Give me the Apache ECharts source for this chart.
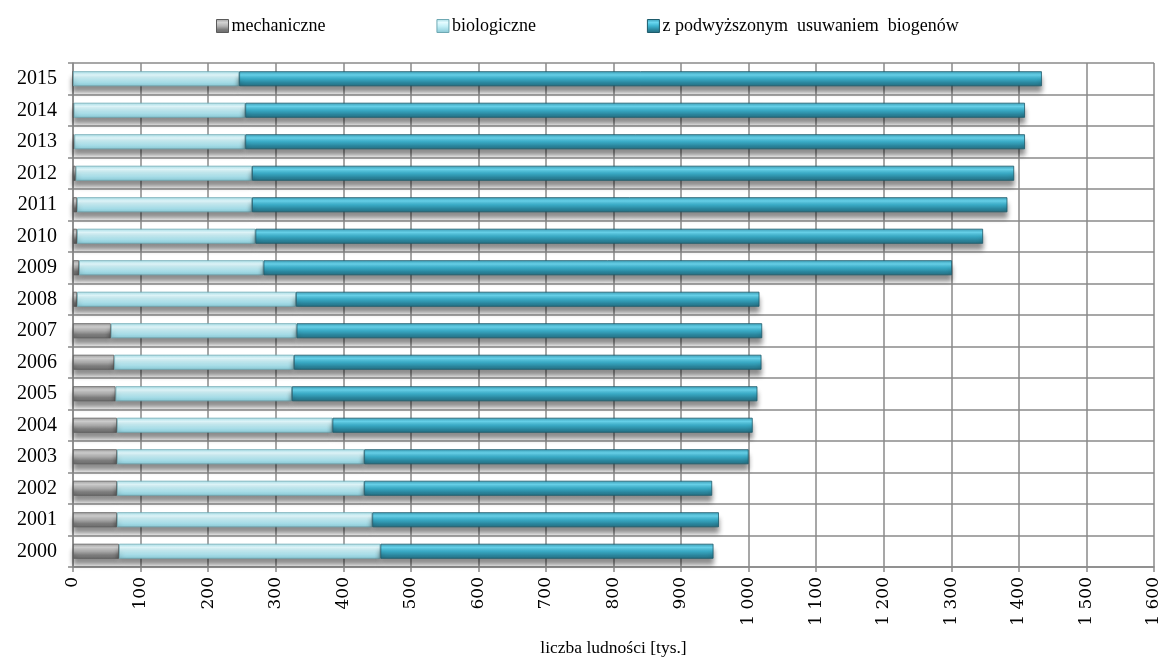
<!DOCTYPE html>
<html>
<head>
<meta charset="utf-8">
<script src="https://cdn.jsdelivr.net/npm/echarts@6/dist/echarts.min.js"></script>
<style>
  html, body { margin: 0; padding: 0; background: #fff; }
  #chart { width: 1164px; height: 657px; }
</style>
</head>
<body>
<div id="chart"></div>
<script>
// Years (bottom to top) and population served [thousands] by treatment type
const years = ['2000','2001','2002','2003','2004','2005','2006','2007','2008','2009','2010','2011','2012','2013','2014','2015'];
const mechaniczne = [68, 65, 65, 65, 65, 63, 61, 56, 6, 9, 6, 6, 4, 2, 1, 0];
const biologiczne = [387, 378, 366, 366, 319, 261, 266, 275, 324, 273, 264, 259, 261, 253, 254, 246];
const zPodwyzszonym = [493, 513, 515, 569, 622, 689, 692, 689, 686, 1019, 1077, 1118, 1128, 1154, 1154, 1188];
const seriesNames = ['mechaniczne', 'biologiczne', 'z podwyższonym  usuwaniem  biogenów'];

// cylinder-like vertical shading for each series
function tube(stops) {
  return new echarts.graphic.LinearGradient(0, 0, 0, 1,
    stops.map((c, i) => ({ offset: i / (stops.length - 1), color: c })));
}
const fills = [
  tube(['#a0a0a0', '#d2d2d2', '#b4b4b4', '#7e7e7e', '#6a6a6a']),
  tube(['#a6dbe4', '#e4fbff', '#c6f1f8', '#a6dde8', '#86c4d0']),
  tube(['#3b9cb5', '#69d6ef', '#3db4d0', '#2c8aa2', '#246b7d'])
];
const edges = ['#5a5a5a', '#6ea8b3', '#1d5b6b'];

const serif = '"Liberation Serif", "DejaVu Serif", serif';
const gridColor = '#8a8a8a';

function fmt(v) {
  return v >= 1000 ? Math.floor(v / 1000) + ' ' + String(v % 1000).padStart(3, '0') : String(v);
}

const chart = echarts.init(document.getElementById('chart'), null, { renderer: 'canvas' });
chart.setOption({
  animation: false,
  backgroundColor: '#ffffff',
  legend: {
    top: 12,
    left: 211,
    itemWidth: 12,
    itemHeight: 13,
    itemGap: 111,
    icon: 'rect',
    textStyle: { fontFamily: serif, fontSize: 18, color: '#000', padding: [0, 0, 0, -2] },
    data: seriesNames.map((n, i) => ({
      name: n,
      itemStyle: { color: fills[i], borderColor: edges[i], borderWidth: 1, shadowBlur: 0, shadowOffsetY: 0 }
    }))
  },
  grid: { left: 73, right: 10, top: 63, bottom: 90, containLabel: false, outerBoundsMode: 'none' },
  xAxis: {
    type: 'value',
    min: 0,
    max: 1600,
    interval: 100,
    name: 'liczba ludności [tys.]',
    nameLocation: 'middle',
    nameGap: 72,
    nameTextStyle: { fontFamily: serif, fontSize: 17.5, color: '#000' },
    axisLine: { show: true, lineStyle: { color: gridColor, width: 1.5 } },
    axisTick: { show: true, length: 5, lineStyle: { color: gridColor, width: 1.5 } },
    axisLabel: {
      rotate: 90,
      margin: 10,
      fontFamily: '"DejaVu Serif", serif',
      fontSize: 17,
      color: '#000',
      formatter: fmt
    },
    splitLine: { show: true, lineStyle: { color: gridColor, width: 1.5 } }
  },
  yAxis: {
    type: 'category',
    data: years,
    axisLine: { show: true, lineStyle: { color: gridColor, width: 1.5 } },
    axisTick: { show: true, length: 5, lineStyle: { color: gridColor, width: 1.5 } },
    axisLabel: { fontFamily: serif, fontSize: 20, color: '#000', margin: 16 },
    splitLine: { show: true, lineStyle: { color: gridColor, width: 1.5 } }
  },
  series: [mechaniczne, biologiczne, zPodwyzszonym].map((vals, i) => ({
    name: seriesNames[i],
    type: 'bar',
    stack: 'total',
    data: vals,
    barWidth: 15,
    itemStyle: {
      color: fills[i],
      borderColor: edges[i],
      borderWidth: 0.8,
      shadowColor: 'rgba(0,0,0,0.45)',
      shadowBlur: 5,
      shadowOffsetY: 6
    }
  }))
});
</script>
</body>
</html>
